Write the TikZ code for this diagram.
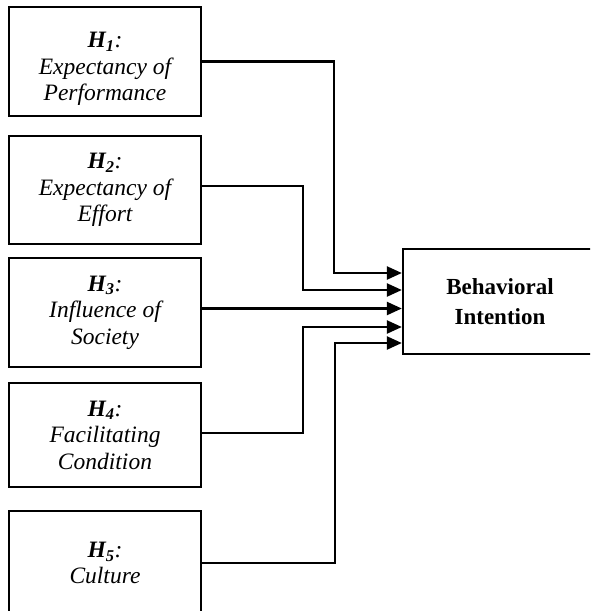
\documentclass[tikz,border=0pt]{standalone}
\usepackage{fontspec}
\setmainfont{Liberation Serif}
\usetikzlibrary{arrows.meta,positioning}
\newcommand{\hypo}[1]{\textbf{H\textsubscript{#1}}:}

\begin{document}
\begin{tikzpicture}[x=1pt, y=-1pt,
	hbox/.style={draw, line width=2.3pt, minimum width=192pt, inner sep=0pt, align=center, font=\fontsize{23.5}{26.5}\selectfont\itshape},
	link/.style={line width=2.3pt, -{Triangle[length=15pt,width=13pt]}}]
				\useasboundingbox (0,0) rectangle (590,611);
				\clip (0,0) rectangle (590,611);
				\node [hbox, minimum height=109pt] (h1) at (105,61.5)	{\rule{0pt}{30pt}\hypo{1}\\Expectancy of\\Performance};
				\node [hbox, minimum height=108pt] (h2) at (105,190)	{\hypo{2}\\Expectancy of\\Effort};
				\node [hbox, minimum height=109pt] (h3) at (105,312.5)	{\hypo{3}\\Influence of\\Society};
				\node [hbox, minimum height=104pt] (h4) at (105,435)	{\hypo{4}\\Facilitating\\Condition};
				\node [hbox, minimum height=104pt] (h5) at (105,563)	{\hypo{5}\\Culture};
				\node [draw, line width=2.3pt, minimum width=194pt, minimum height=105pt, align=center, font=\fontsize{23}{30}\selectfont\bfseries] (bi) at (500,301.5) {Behavioral\\Intention};
				\draw [link] (h1.east) -- ++(132,0) |- ([yshift=28.5pt]bi.west);
				\draw [link] ([yshift=4pt]h2.east) -- ++(101,0) |- ([yshift=11.5pt]bi.west);
				\draw [link] ([yshift=4pt]h3.east) -- ([yshift=-7pt]bi.west);
				\draw [link] ([yshift=2pt]h4.east) -- ++(101,0) |- ([yshift=-25.5pt]bi.west);
				\draw [link] (h5.east) -- ++(133,0) |- ([yshift=-41.5pt]bi.west);
				\end{tikzpicture}
\end{document}
